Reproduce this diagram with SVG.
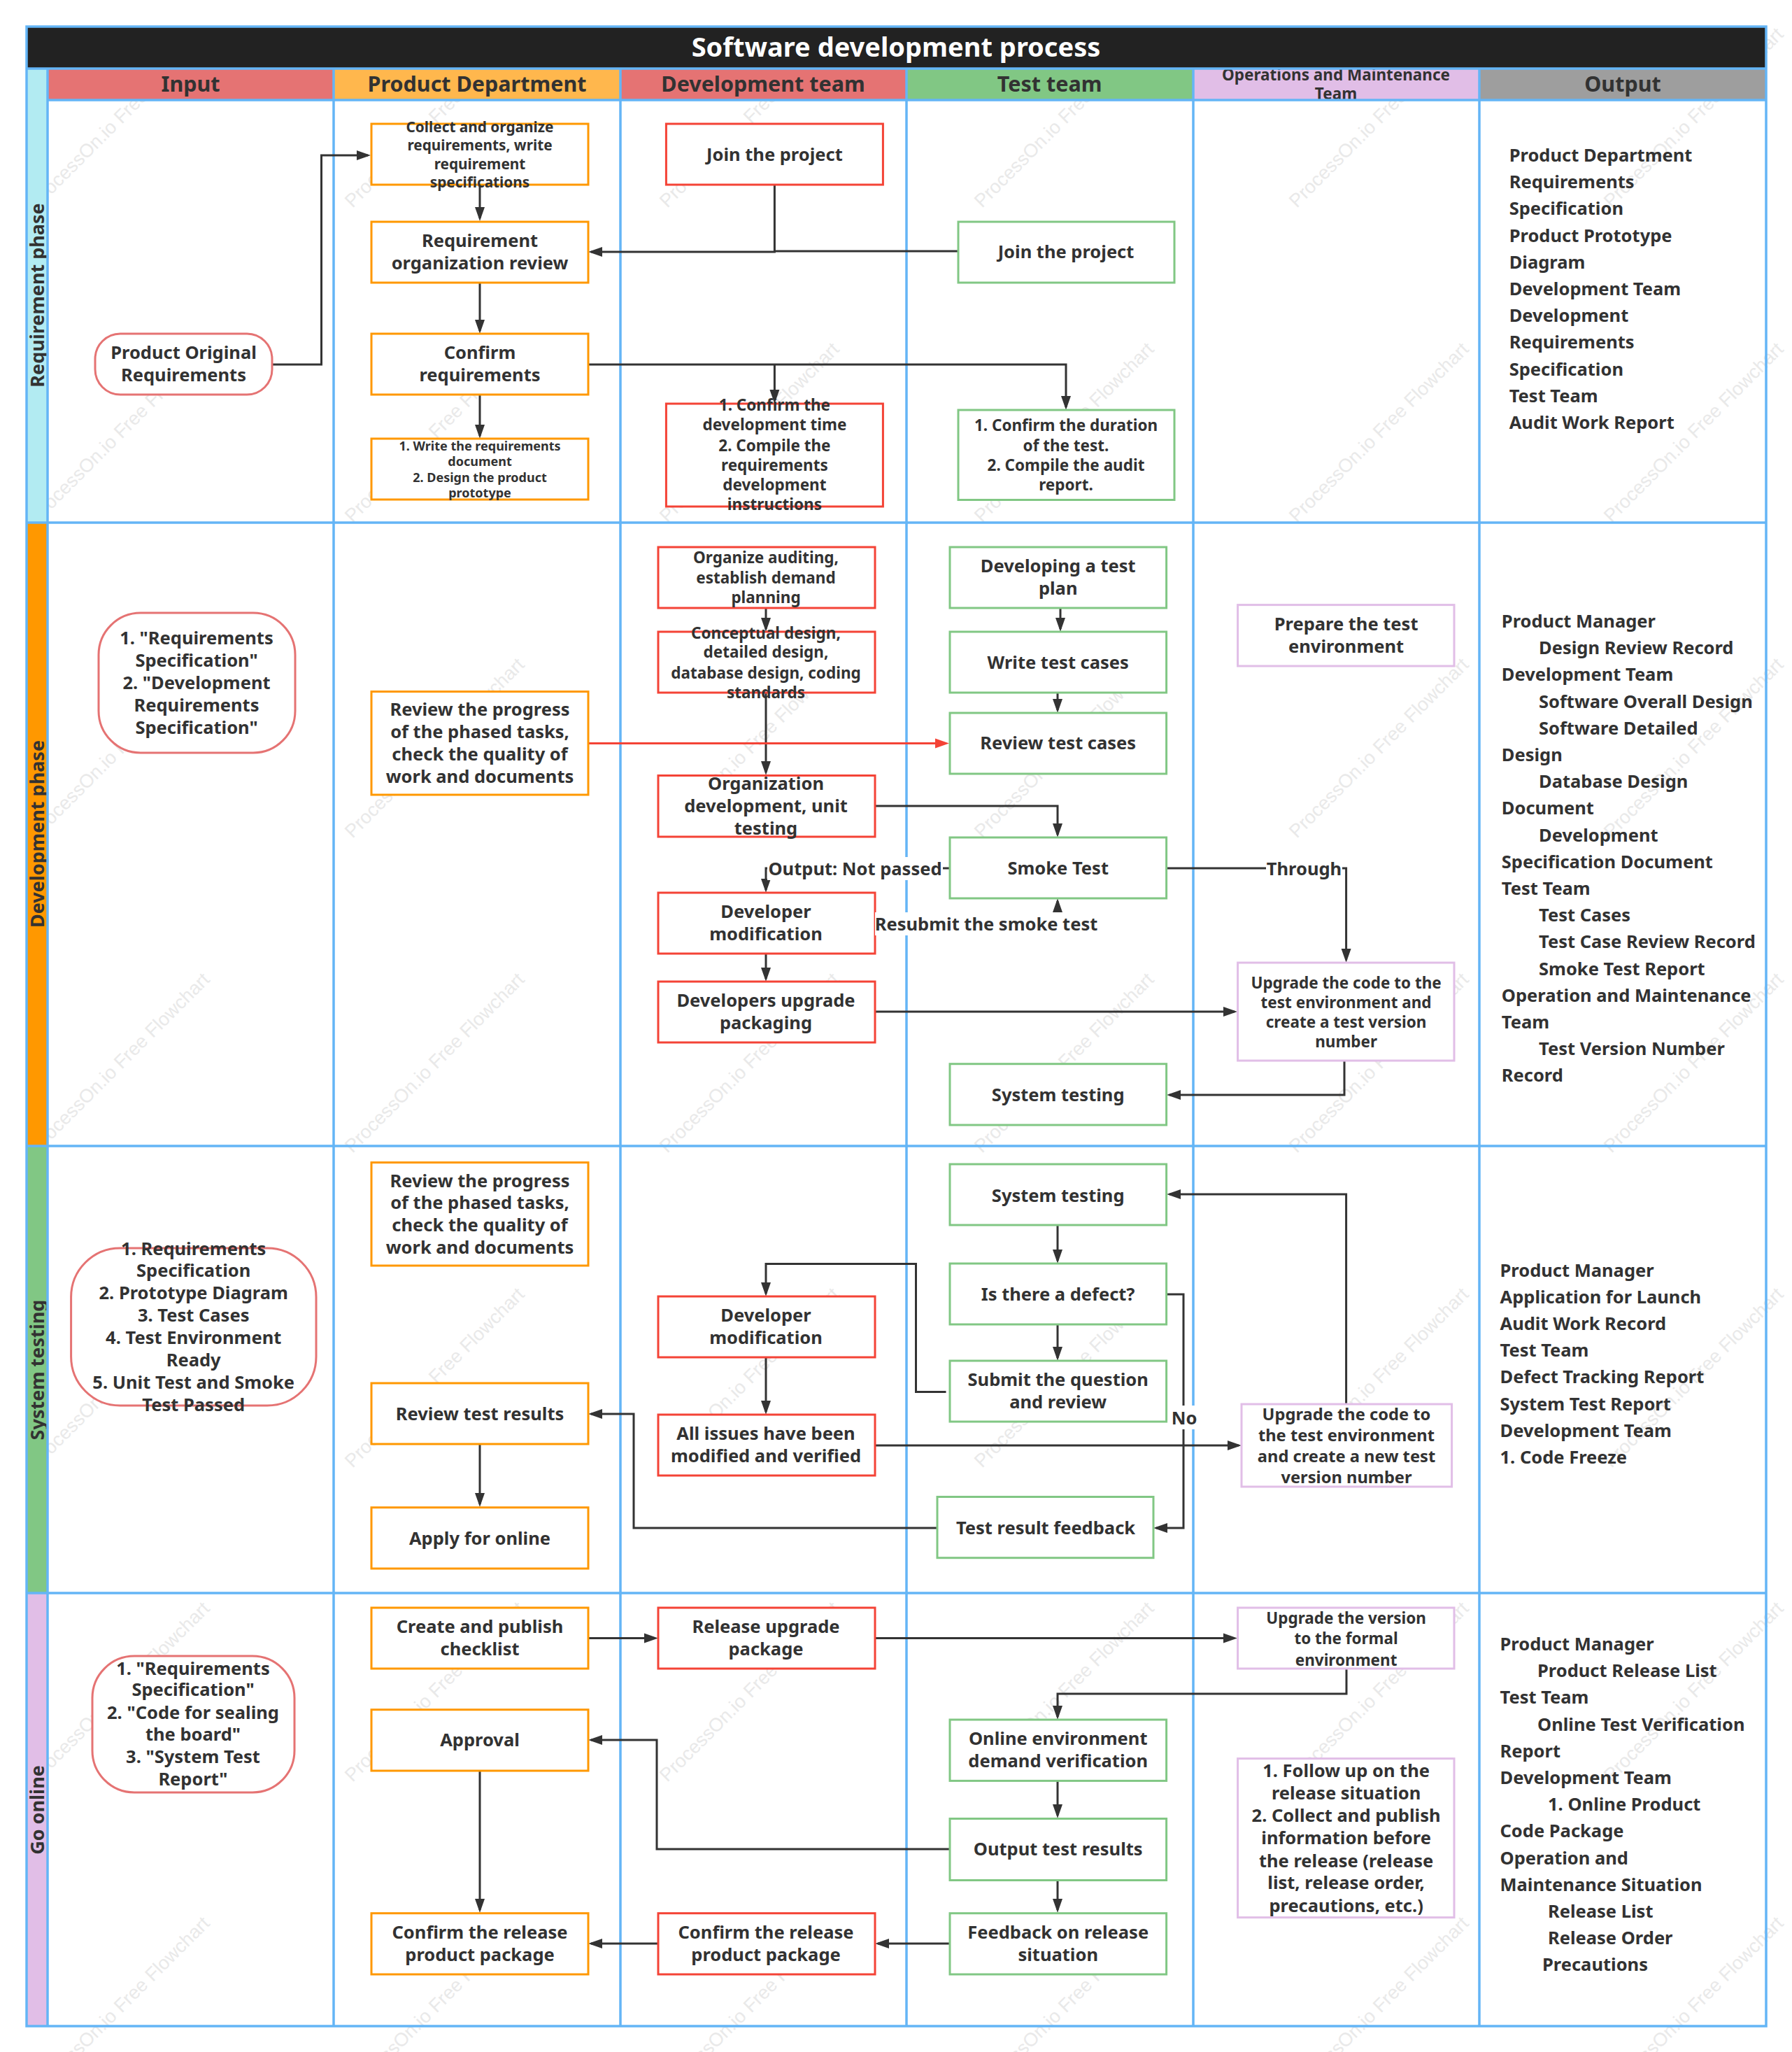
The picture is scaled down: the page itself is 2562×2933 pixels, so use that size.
<svg xmlns="http://www.w3.org/2000/svg" width="2562" height="2933" viewBox="0 0 2562 2933">
<style>
text{font-family:"Noto Sans","Open Sans","Liberation Sans",sans-serif;font-weight:700;fill:#323232}
.c{text-anchor:middle}
.b{font-size:25.5px}.m{font-size:22.5px}.s{font-size:20.8px}.xs{font-size:18px}.k{font-size:23.7px}
.h{font-size:30.5px;text-anchor:middle}
.o{font-size:22.5px;text-anchor:middle}
.t{font-size:38px;text-anchor:middle;fill:#fff}
.lane{font-size:27px;text-anchor:middle}
.wm{font-family:"Liberation Sans",sans-serif;font-weight:400;font-size:27px;fill:#e9e9e9}
.grid{stroke:#64b5f6;stroke-width:3.5;fill:none}
.n{fill:#fff;stroke-width:3}
.or{stroke:#ff9800}.re{stroke:#f44336}.gr{stroke:#81c784}.pu{stroke:#e1bee7}.pk{stroke:#e57373}
.e{fill:none;stroke:#333;stroke-width:3;marker-end:url(#a)}
.l{fill:none;stroke:#333;stroke-width:3}
.r{fill:none;stroke:#f44336;stroke-width:3;marker-end:url(#ar)}
.lb{fill:#fff}
</style>
<defs>
<marker id="a" markerUnits="userSpaceOnUse" markerWidth="22" markerHeight="16" refX="16" refY="8" orient="auto"><path d="M0 1L20 8L0 15z" fill="#333"/></marker>
<marker id="ar" markerUnits="userSpaceOnUse" markerWidth="22" markerHeight="16" refX="16" refY="8" orient="auto"><path d="M0 1L20 8L0 15z" fill="#f44336"/></marker>
</defs>
<rect width="2562" height="2933" fill="#fff"/>
<g id="watermarks">
<text class="wm" transform="translate(54 298) rotate(-45)">ProcessOn.io Free Flowchart</text><text class="wm" transform="translate(504 298) rotate(-45)">ProcessOn.io Free Flowchart</text><text class="wm" transform="translate(954 298) rotate(-45)">ProcessOn.io Free Flowchart</text><text class="wm" transform="translate(1404 298) rotate(-45)">ProcessOn.io Free Flowchart</text><text class="wm" transform="translate(1854 298) rotate(-45)">ProcessOn.io Free Flowchart</text><text class="wm" transform="translate(2304 298) rotate(-45)">ProcessOn.io Free Flowchart</text>
<text class="wm" transform="translate(54 748) rotate(-45)">ProcessOn.io Free Flowchart</text><text class="wm" transform="translate(504 748) rotate(-45)">ProcessOn.io Free Flowchart</text><text class="wm" transform="translate(954 748) rotate(-45)">ProcessOn.io Free Flowchart</text><text class="wm" transform="translate(1404 748) rotate(-45)">ProcessOn.io Free Flowchart</text><text class="wm" transform="translate(1854 748) rotate(-45)">ProcessOn.io Free Flowchart</text><text class="wm" transform="translate(2304 748) rotate(-45)">ProcessOn.io Free Flowchart</text>
<text class="wm" transform="translate(54 1199) rotate(-45)">ProcessOn.io Free Flowchart</text><text class="wm" transform="translate(504 1199) rotate(-45)">ProcessOn.io Free Flowchart</text><text class="wm" transform="translate(954 1199) rotate(-45)">ProcessOn.io Free Flowchart</text><text class="wm" transform="translate(1404 1199) rotate(-45)">ProcessOn.io Free Flowchart</text><text class="wm" transform="translate(1854 1199) rotate(-45)">ProcessOn.io Free Flowchart</text><text class="wm" transform="translate(2304 1199) rotate(-45)">ProcessOn.io Free Flowchart</text>
<text class="wm" transform="translate(54 1649) rotate(-45)">ProcessOn.io Free Flowchart</text><text class="wm" transform="translate(504 1649) rotate(-45)">ProcessOn.io Free Flowchart</text><text class="wm" transform="translate(954 1649) rotate(-45)">ProcessOn.io Free Flowchart</text><text class="wm" transform="translate(1404 1649) rotate(-45)">ProcessOn.io Free Flowchart</text><text class="wm" transform="translate(1854 1649) rotate(-45)">ProcessOn.io Free Flowchart</text><text class="wm" transform="translate(2304 1649) rotate(-45)">ProcessOn.io Free Flowchart</text>
<text class="wm" transform="translate(54 2099) rotate(-45)">ProcessOn.io Free Flowchart</text><text class="wm" transform="translate(504 2099) rotate(-45)">ProcessOn.io Free Flowchart</text><text class="wm" transform="translate(954 2099) rotate(-45)">ProcessOn.io Free Flowchart</text><text class="wm" transform="translate(1404 2099) rotate(-45)">ProcessOn.io Free Flowchart</text><text class="wm" transform="translate(1854 2099) rotate(-45)">ProcessOn.io Free Flowchart</text><text class="wm" transform="translate(2304 2099) rotate(-45)">ProcessOn.io Free Flowchart</text>
<text class="wm" transform="translate(54 2548) rotate(-45)">ProcessOn.io Free Flowchart</text><text class="wm" transform="translate(504 2548) rotate(-45)">ProcessOn.io Free Flowchart</text><text class="wm" transform="translate(954 2548) rotate(-45)">ProcessOn.io Free Flowchart</text><text class="wm" transform="translate(1404 2548) rotate(-45)">ProcessOn.io Free Flowchart</text><text class="wm" transform="translate(1854 2548) rotate(-45)">ProcessOn.io Free Flowchart</text><text class="wm" transform="translate(2304 2548) rotate(-45)">ProcessOn.io Free Flowchart</text>
<text class="wm" transform="translate(54 2998) rotate(-45)">ProcessOn.io Free Flowchart</text><text class="wm" transform="translate(504 2998) rotate(-45)">ProcessOn.io Free Flowchart</text><text class="wm" transform="translate(954 2998) rotate(-45)">ProcessOn.io Free Flowchart</text><text class="wm" transform="translate(1404 2998) rotate(-45)">ProcessOn.io Free Flowchart</text><text class="wm" transform="translate(1854 2998) rotate(-45)">ProcessOn.io Free Flowchart</text><text class="wm" transform="translate(2304 2998) rotate(-45)">ProcessOn.io Free Flowchart</text>
</g>
<g id="headers">
<rect x="68" y="98" width="409" height="45" fill="#e57373"/><text class="h" x="272.6" y="130.5">Input</text>
<rect x="477" y="98" width="410" height="45" fill="#ffb74d"/><text class="h" x="682" y="130.5">Product Department</text>
<rect x="887" y="98" width="409" height="45" fill="#e57373"/><text class="h" x="1091" y="130.5">Development team</text>
<rect x="1296" y="98" width="410" height="45" fill="#81c784"/><text class="h" x="1500.6" y="130.5">Test team</text>
<rect x="1706" y="98" width="409" height="45" fill="#e1bee7"/><text class="o" x="1910" y="114.5">Operations and Maintenance</text><text class="o" x="1910" y="142">Team</text>
<rect x="2115" y="98" width="410" height="45" fill="#9e9e9e"/><text class="h" x="2320" y="130.5">Output</text>
</g>
<g id="title"><rect x="38" y="38" width="2487" height="60" fill="#222"/><text class="t" x="1281" y="81">Software development process</text></g>
<g id="lanes">
<rect x="38" y="98" width="30" height="649" fill="#b2ebf2"/><text class="lane" transform="translate(63 422) rotate(-90)">Requirement phase</text>
<rect x="38" y="747" width="30" height="891" fill="#ff9800"/><text class="lane" transform="translate(63 1192) rotate(-90)">Development phase</text>
<rect x="38" y="1638" width="30" height="639" fill="#81c784"/><text class="lane" transform="translate(63 1958) rotate(-90)">System testing</text>
<rect x="38" y="2277" width="30" height="619" fill="#e1bee7"/><text class="lane" transform="translate(63 2587) rotate(-90)">Go online</text>
</g>
<g id="grid">
<rect class="grid" x="38" y="38" width="2487" height="2858"/>
<path class="grid" d="M38 98H2525M68 143H2525M38 747H2525M38 1638H2525M38 2277H2525M68 98V2896M477 98V2896M887 98V2896M1296 98V2896M1706 98V2896M2115 98V2896"/>
</g>
<g id="connectors">
<path class="e" d="M389 521H459.5V222H526"/>
<path class="e" d="M686 264V312"/>
<path class="e" d="M686 404V473"/>
<path class="e" d="M686 564V623"/>
<path class="e" d="M1107.4 264V360H845"/>
<path class="l" d="M1370 359H1107"/>
<path class="e" d="M841 521H1524V582"/>
<path class="e" d="M1107.4 521V573"/>
<path class="e" d="M1095 869V899"/>
<path class="e" d="M1516 869V899"/>
<path class="e" d="M1512 990V1015"/>
<path class="e" d="M1095 990V1104"/>
<path class="r" d="M841 1062.6H1353"/>
<path class="e" d="M1251 1152H1512V1193"/>
<path class="e" d="M1358 1241H1095V1272"/>
<path class="e" d="M1251 1320H1512V1288"/>
<path class="e" d="M1095 1363V1399"/>
<path class="e" d="M1251 1446H1765"/>
<path class="e" d="M1668 1241H1924.6V1372"/>
<path class="e" d="M1922 1516V1565H1672"/>
<path class="e" d="M1512 1751V1802"/>
<path class="e" d="M1512 1893V1941"/>
<path class="e" d="M1352.5 1989.5H1309.5V1806.5H1095V1849"/>
<path class="e" d="M1095 1940V2018"/>
<path class="e" d="M1251 2066H1771"/>
<path class="e" d="M1668 1850H1692V2184H1653"/>
<path class="e" d="M1340 2184H906V2021H845"/>
<path class="e" d="M1924.6 2007V1707H1672"/>
<path class="e" d="M686 2064V2150"/>
<path class="e" d="M841 2341.5H937"/>
<path class="e" d="M1251 2341.5H1765"/>
<path class="e" d="M1925 2385V2421H1512V2454"/>
<path class="e" d="M1512 2545V2595"/>
<path class="e" d="M1512 2687V2730"/>
<path class="e" d="M1358 2643H939V2487H845"/>
<path class="e" d="M686 2531V2730"/>
<path class="e" d="M1358 2778H1255"/>
<path class="e" d="M941 2778H845"/>
</g>
<g id="n-product-original"><rect class="n pk" x="136" y="477" width="253" height="87" rx="36"/><text class="b c"><tspan x="262.5" y="513">Product Original</tspan><tspan x="262.5" y="545">Requirements</tspan></text></g>
<g id="n-collect"><rect class="n or" x="531" y="177" width="310" height="87"/><text class="s c"><tspan x="686" y="188.5">Collect and organize</tspan><tspan x="686" y="215">requirements, write</tspan><tspan x="686" y="241.5">requirement</tspan><tspan x="686" y="267.5">specifications</tspan></text></g>
<g id="n-req-review"><rect class="n or" x="531" y="317" width="310" height="87"/><text class="b c"><tspan x="686" y="352.7">Requirement</tspan><tspan x="686" y="384.7">organization review</tspan></text></g>
<g id="n-confirm-req"><rect class="n or" x="531" y="477" width="310" height="87"/><text class="b c"><tspan x="686" y="513">Confirm</tspan><tspan x="686" y="545">requirements</tspan></text></g>
<g id="n-write-doc"><rect class="n or" x="531" y="627" width="310" height="87"/><text class="xs c"><tspan x="686" y="644">1. Write the requirements</tspan><tspan x="686" y="665.5">document</tspan><tspan x="686" y="689">2. Design the product</tspan><tspan x="686" y="710.5">prototype</tspan></text></g>
<g id="n-join-dev"><rect class="n re" x="952.4" y="177" width="310" height="87"/><text class="b c"><tspan x="1107.4" y="230">Join the project</tspan></text></g>
<g id="n-confirm-dev"><rect class="n re" x="952.4" y="577" width="310" height="147"/><text class="m c"><tspan x="1107.4" y="587">1. Confirm the</tspan><tspan x="1107.4" y="615">development time</tspan><tspan x="1107.4" y="644.5">2. Compile the</tspan><tspan x="1107.4" y="672.5">requirements</tspan><tspan x="1107.4" y="700.7">development</tspan><tspan x="1107.4" y="728.8">instructions</tspan></text></g>
<g id="n-join-test"><rect class="n gr" x="1370" y="317" width="309" height="87"/><text class="b c"><tspan x="1524" y="369">Join the project</tspan></text></g>
<g id="n-confirm-test"><rect class="n gr" x="1370" y="586" width="309" height="128.5"/><text class="m c"><tspan x="1524" y="616">1. Confirm the duration</tspan><tspan x="1524" y="644.5">of the test.</tspan><tspan x="1524" y="672.5">2. Compile the audit</tspan><tspan x="1524" y="700.7">report.</tspan></text></g>
<g id="output-1"><text class="b"><tspan x="2157.7" y="231">Product Department</tspan><tspan x="2157.7" y="269.2">Requirements</tspan><tspan x="2157.7" y="307.4">Specification</tspan><tspan x="2157.7" y="345.6">Product Prototype</tspan><tspan x="2157.7" y="383.8">Diagram</tspan><tspan x="2157.7" y="422">Development Team</tspan><tspan x="2157.7" y="460.2">Development</tspan><tspan x="2157.7" y="498.4">Requirements</tspan><tspan x="2157.7" y="536.6">Specification</tspan><tspan x="2157.7" y="574.8">Test Team</tspan><tspan x="2157.7" y="613">Audit Work Report</tspan></text></g>
<g id="n-input-2"><rect class="n pk" x="141" y="876" width="281" height="200" rx="60"/><text class="b c"><tspan x="281" y="920.6">1. "Requirements</tspan><tspan x="281" y="952.8">Specification"</tspan><tspan x="281" y="985">2. "Development</tspan><tspan x="281" y="1017">Requirements</tspan><tspan x="281" y="1049">Specification"</tspan></text></g>
<g id="n-review-progress-2"><rect class="n or" x="531" y="988.5" width="310" height="147.5"/><text class="b c"><tspan x="686" y="1023.4">Review the progress</tspan><tspan x="686" y="1055">of the phased tasks,</tspan><tspan x="686" y="1087">check the quality of</tspan><tspan x="686" y="1119">work and documents</tspan></text></g>
<g id="n-organize"><rect class="n re" x="941" y="782" width="310" height="87"/><text class="m c"><tspan x="1095" y="805.4">Organize auditing,</tspan><tspan x="1095" y="833.5">establish demand</tspan><tspan x="1095" y="861.7">planning</tspan></text></g>
<g id="n-conceptual"><rect class="n re" x="941" y="903" width="310" height="87"/><text class="m c"><tspan x="1095" y="912.7">Conceptual design,</tspan><tspan x="1095" y="940.3">detailed design,</tspan><tspan x="1095" y="969.6">database design, coding</tspan><tspan x="1095" y="997.7">standards</tspan></text></g>
<g id="n-org-dev"><rect class="n re" x="941" y="1108.5" width="310" height="87.5"/><text class="b c"><tspan x="1095" y="1129">Organization</tspan><tspan x="1095" y="1160.6">development, unit</tspan><tspan x="1095" y="1192.7">testing</tspan></text></g>
<g id="n-dev-mod-2"><rect class="n re" x="941" y="1276" width="310" height="87"/><text class="b c"><tspan x="1095" y="1312">Developer</tspan><tspan x="1095" y="1344">modification</tspan></text></g>
<g id="n-dev-upgrade"><rect class="n re" x="941" y="1403" width="310" height="87"/><text class="b c"><tspan x="1095" y="1439">Developers upgrade</tspan><tspan x="1095" y="1471">packaging</tspan></text></g>
<g id="n-test-plan"><rect class="n gr" x="1358" y="782" width="309.6" height="87"/><text class="b c"><tspan x="1512.7" y="818">Developing a test</tspan><tspan x="1512.7" y="850">plan</tspan></text></g>
<g id="n-write-cases"><rect class="n gr" x="1358" y="903" width="309.6" height="87"/><text class="b c"><tspan x="1512.7" y="955.6">Write test cases</tspan></text></g>
<g id="n-review-cases"><rect class="n gr" x="1358" y="1019" width="309.6" height="87"/><text class="b c"><tspan x="1512.7" y="1071">Review test cases</tspan></text></g>
<g id="n-smoke"><rect class="n gr" x="1358" y="1197" width="309.6" height="87"/><text class="b c"><tspan x="1512.7" y="1250">Smoke Test</tspan></text></g>
<g id="n-system-2"><rect class="n gr" x="1358" y="1520.7" width="309.6" height="87.3"/><text class="b c"><tspan x="1512.7" y="1574">System testing</tspan></text></g>
<g id="n-prepare"><rect class="n pu" x="1769.6" y="864.6" width="309.4" height="87.4"/><text class="b c"><tspan x="1924.6" y="901">Prepare the test</tspan><tspan x="1924.6" y="932.7">environment</tspan></text></g>
<g id="n-upgrade-test"><rect class="n pu" x="1769.6" y="1376" width="309.4" height="140"/><text class="m c"><tspan x="1924.6" y="1412.7">Upgrade the code to the</tspan><tspan x="1924.6" y="1441">test environment and</tspan><tspan x="1924.6" y="1469">create a test version</tspan><tspan x="1924.6" y="1497">number</tspan></text></g>
<g id="output-2"><text class="b"><tspan x="2146.8" y="897">Product Manager</tspan><tspan x="2200" y="935.2">Design Review Record</tspan><tspan x="2146.8" y="973.4">Development Team</tspan><tspan x="2200" y="1011.6">Software Overall Design</tspan><tspan x="2200" y="1049.8">Software Detailed</tspan><tspan x="2146.8" y="1088">Design</tspan><tspan x="2200" y="1126.2">Database Design</tspan><tspan x="2146.8" y="1164.4">Document</tspan><tspan x="2200" y="1202.6">Development</tspan><tspan x="2146.8" y="1240.8">Specification Document</tspan><tspan x="2146.8" y="1279">Test Team</tspan><tspan x="2200" y="1317.2">Test Cases</tspan><tspan x="2200" y="1355.4">Test Case Review Record</tspan><tspan x="2200" y="1393.6">Smoke Test Report</tspan><tspan x="2146.8" y="1431.8">Operation and Maintenance</tspan><tspan x="2146.8" y="1470">Team</tspan><tspan x="2200" y="1508.2">Test Version Number</tspan><tspan x="2146.8" y="1546.4">Record</tspan></text></g>
<g id="n-input-3"><rect class="n pk" x="101.6" y="1784" width="350.4" height="225" rx="70"/><text class="b c"><tspan x="276.7" y="1794">1. Requirements</tspan><tspan x="276.7" y="1825.4">Specification</tspan><tspan x="276.7" y="1857">2. Prototype Diagram</tspan><tspan x="276.7" y="1889">3. Test Cases</tspan><tspan x="276.7" y="1921">4. Test Environment</tspan><tspan x="276.7" y="1953">Ready</tspan><tspan x="276.7" y="1985">5. Unit Test and Smoke</tspan><tspan x="276.7" y="2016.7">Test Passed</tspan></text></g>
<g id="n-review-progress-3"><rect class="n or" x="531" y="1661.6" width="310" height="147.4"/><text class="b c"><tspan x="686" y="1697">Review the progress</tspan><tspan x="686" y="1728">of the phased tasks,</tspan><tspan x="686" y="1760">check the quality of</tspan><tspan x="686" y="1792">work and documents</tspan></text></g>
<g id="n-review-results"><rect class="n or" x="531" y="1977" width="310" height="87"/><text class="b c"><tspan x="686" y="2030">Review test results</tspan></text></g>
<g id="n-apply"><rect class="n or" x="531" y="2154.7" width="310" height="87.3"/><text class="b c"><tspan x="686" y="2208">Apply for online</tspan></text></g>
<g id="n-dev-mod-3"><rect class="n re" x="941" y="1853" width="310" height="87"/><text class="b c"><tspan x="1095" y="1889">Developer</tspan><tspan x="1095" y="1921">modification</tspan></text></g>
<g id="n-all-issues"><rect class="n re" x="941" y="2022" width="310" height="87"/><text class="b c"><tspan x="1095" y="2058">All issues have been</tspan><tspan x="1095" y="2090">modified and verified</tspan></text></g>
<g id="n-system-3"><rect class="n gr" x="1358" y="1664" width="309.6" height="87"/><text class="b c"><tspan x="1512.7" y="1717.5">System testing</tspan></text></g>
<g id="n-defect"><rect class="n gr" x="1358" y="1806" width="309.6" height="87"/><text class="b c"><tspan x="1512.7" y="1859">Is there a defect?</tspan></text></g>
<g id="n-submit"><rect class="n gr" x="1358" y="1945" width="309.6" height="87"/><text class="b c"><tspan x="1512.7" y="1981">Submit the question</tspan><tspan x="1512.7" y="2013">and review</tspan></text></g>
<g id="n-feedback-3"><rect class="n gr" x="1340" y="2139.5" width="309" height="87.2"/><text class="b c"><tspan x="1495" y="2193">Test result feedback</tspan></text></g>
<g id="n-upgrade-new"><rect class="n pu" x="1775" y="2007" width="300.6" height="118"/><text class="k c"><tspan x="1925" y="2029.6">Upgrade the code to</tspan><tspan x="1925" y="2060">the test environment</tspan><tspan x="1925" y="2090">and create a new test</tspan><tspan x="1925" y="2120">version number</tspan></text></g>
<g id="output-3"><text class="b"><tspan x="2144.5" y="1825">Product Manager</tspan><tspan x="2144.5" y="1863.1">Application for Launch</tspan><tspan x="2144.5" y="1901.2">Audit Work Record</tspan><tspan x="2144.5" y="1939.3">Test Team</tspan><tspan x="2144.5" y="1977.4">Defect Tracking Report</tspan><tspan x="2144.5" y="2015.5">System Test Report</tspan><tspan x="2144.5" y="2053.6">Development Team</tspan><tspan x="2144.5" y="2091.7">1. Code Freeze</tspan></text></g>
<g id="n-input-4"><rect class="n pk" x="132" y="2367" width="289" height="195" rx="60"/><text class="b c"><tspan x="276" y="2393.5">1. "Requirements</tspan><tspan x="276" y="2424">Specification"</tspan><tspan x="276" y="2456.5">2. "Code for sealing</tspan><tspan x="276" y="2488">the board"</tspan><tspan x="276" y="2520">3. "System Test</tspan><tspan x="276" y="2552">Report"</tspan></text></g>
<g id="n-create"><rect class="n or" x="531" y="2298" width="310" height="87"/><text class="b c"><tspan x="686" y="2334">Create and publish</tspan><tspan x="686" y="2366">checklist</tspan></text></g>
<g id="n-approval"><rect class="n or" x="531" y="2443.7" width="310" height="87.3"/><text class="b c"><tspan x="686" y="2496">Approval</tspan></text></g>
<g id="n-confirm-prod"><rect class="n or" x="531" y="2734.7" width="310" height="87.3"/><text class="b c"><tspan x="686" y="2771">Confirm the release</tspan><tspan x="686" y="2803">product package</tspan></text></g>
<g id="n-release"><rect class="n re" x="941" y="2298" width="310" height="87"/><text class="b c"><tspan x="1095" y="2334">Release upgrade</tspan><tspan x="1095" y="2366">package</tspan></text></g>
<g id="n-confirm-dev-4"><rect class="n re" x="941" y="2734.7" width="310" height="87.3"/><text class="b c"><tspan x="1095" y="2771">Confirm the release</tspan><tspan x="1095" y="2803">product package</tspan></text></g>
<g id="n-online"><rect class="n gr" x="1358" y="2458" width="309.6" height="87.4"/><text class="b c"><tspan x="1512.7" y="2494">Online environment</tspan><tspan x="1512.7" y="2525.6">demand verification</tspan></text></g>
<g id="n-output-results"><rect class="n gr" x="1358" y="2599.5" width="309.6" height="88"/><text class="b c"><tspan x="1512.7" y="2652">Output test results</tspan></text></g>
<g id="n-feedback-4"><rect class="n gr" x="1358" y="2734.7" width="309.6" height="87.3"/><text class="b c"><tspan x="1512.7" y="2771">Feedback on release</tspan><tspan x="1512.7" y="2803">situation</tspan></text></g>
<g id="n-upgrade-version"><rect class="n pu" x="1769.6" y="2298" width="309.4" height="87"/><text class="m c"><tspan x="1924.6" y="2320.8">Upgrade the version</tspan><tspan x="1924.6" y="2350.4">to the formal</tspan><tspan x="1924.6" y="2381">environment</tspan></text></g>
<g id="n-follow"><rect class="n pu" x="1769.6" y="2513.6" width="309.4" height="227.1"/><text class="b c"><tspan x="1924.6" y="2540">1. Follow up on the</tspan><tspan x="1924.6" y="2572.4">release situation</tspan><tspan x="1924.6" y="2604">2. Collect and publish</tspan><tspan x="1924.6" y="2636.4">information before</tspan><tspan x="1924.6" y="2668.6">the release (release</tspan><tspan x="1924.6" y="2700">list, release order,</tspan><tspan x="1924.6" y="2732.5">precautions, etc.)</tspan></text></g>
<g id="output-4"><text class="b"><tspan x="2144.5" y="2359">Product Manager</tspan><tspan x="2198" y="2397.2">Product Release List</tspan><tspan x="2144.5" y="2435.4">Test Team</tspan><tspan x="2198" y="2473.6">Online Test Verification</tspan><tspan x="2144.5" y="2511.8">Report</tspan><tspan x="2144.5" y="2550">Development Team</tspan><tspan x="2213" y="2588.2">1. Online Product</tspan><tspan x="2144.5" y="2626.4">Code Package</tspan><tspan x="2144.5" y="2664.6">Operation and</tspan><tspan x="2144.5" y="2702.8">Maintenance Situation</tspan><tspan x="2213" y="2741">Release List</tspan><tspan x="2213" y="2779.2">Release Order</tspan><tspan x="2205" y="2817.4">Precautions</tspan></text></g>
<g id="connector-labels">
<rect class="lb" x="1097" y="1225" width="251" height="33"/><text class="b c" x="1222.5" y="1251">Output: Not passed</text>
<rect class="lb" x="1251" y="1304" width="318" height="33"/><text class="b c" x="1410" y="1330">Resubmit the smoke test</text>
<rect class="lb" x="1810" y="1225" width="109" height="33"/><text class="b c" x="1864.5" y="1251">Through</text>
<rect class="lb" x="1674" y="2009" width="38" height="34"/><text class="b c" x="1693" y="2036">No</text>
</g>
</svg>
